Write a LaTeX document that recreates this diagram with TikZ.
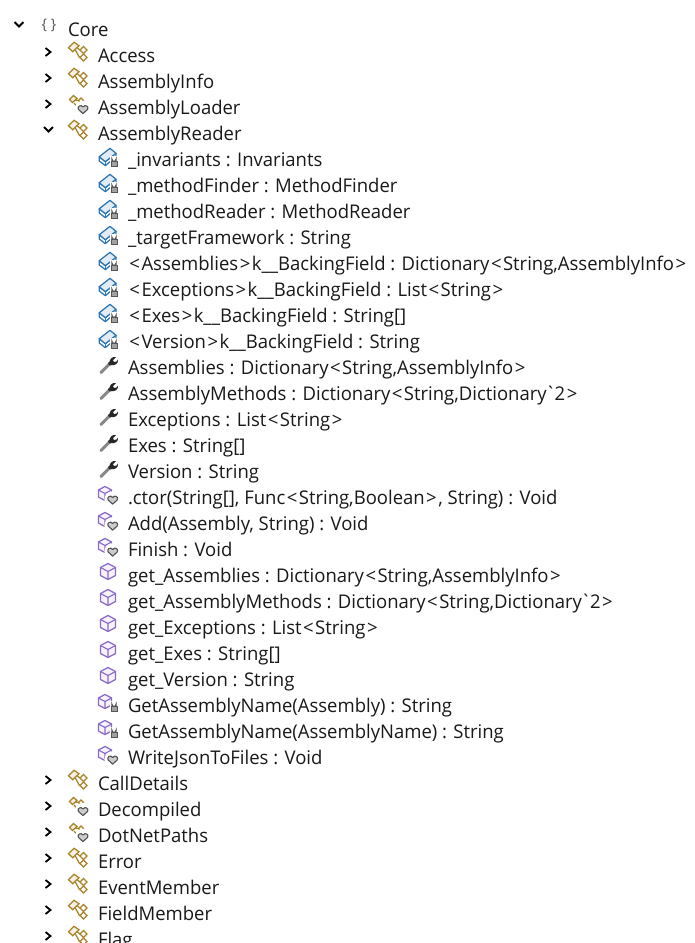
\documentclass[tikz,border=0pt]{standalone}
\usepackage{fontspec}
\newfontfamily\uif[FakeStretch=0.98]{Open Sans}
\definecolor{gold}{HTML}{A98326}
\definecolor{ablue}{HTML}{2F78B8}
\definecolor{apurple}{HTML}{8A6AC8}
\definecolor{agray}{HTML}{555555}
\newcommand{\lAng}{\kern1.1pt<\kern1.1pt}
\newcommand{\rAng}{\kern1.1pt>\kern1.1pt}
\newcommand{\tick}{\kern-1pt`\kern-1pt}
\tikzset{
  x=0.75pt,y=-0.75pt,
  lbl/.style={anchor=base west,inner sep=0pt,outer sep=0pt,font=\uif\fontsize{14.15pt}{16pt}\selectfont,text=black!90},
  chev/.style={draw=black,line width=1.35pt,line cap=butt,line join=miter},
  goldline/.style={draw=gold,line width=0.95pt,fill=gold!12},
  blueline/.style={draw=ablue,line width=0.95pt,fill=ablue!14,line join=round},
  purpleline/.style={draw=apurple,line width=0.95pt,fill=apurple!8,line join=round},
  heartshape/.style={draw=agray,line width=0.85pt,fill=agray!30,line join=round},
}
% expanders
\newcommand{\chevR}[1]{\draw[chev] (45.5,#1-7) -- (50.5,#1-3) -- (45.5,#1+1);}
\newcommand{\chevD}[1]{\draw[chev] (44,#1-6) -- (48.5,#1-1.5) -- (53,#1-6);}
% overlays at local origin
\newcommand{\hearticon}[2]{\begin{scope}[shift={(#1,#2)}]
  \fill[white] (0,0) circle[radius=6.2pt];
  \draw[heartshape] (0,4.6) -- (-4.6,0.4) .. controls (-6.2,-2.6) and (-2,-5) .. (0,-2) .. controls (2,-5) and (6.2,-2.6) .. (4.6,0.4) -- cycle;
\end{scope}}
\newcommand{\lockicon}[2]{\begin{scope}[shift={(#1,#2)}]
  \fill[white] (-4,-6) rectangle (4,5);
  \draw[agray,line width=0.9pt] (-2,-1) -- (-2,-2.6) arc (180:0:2) -- (2,-1);
  \draw[agray,line width=0.7pt,fill=agray!55] (-3,-1) rectangle (3,4);
\end{scope}}
% class icons
\newcommand{\classicon}[1]{\begin{scope}[shift={(0,#1)}]
  \draw[goldline,fill=none] (74.5,-6.5) -- (79.5,2.5) -- (83.5,2.5);
  \draw[goldline,fill=none] (76,-8) -- (80,-5);
  \draw[goldline] (74,-12.7) -- (68.5,-7.3) -- (72.7,-3.3) -- (79,-9.3) -- cycle;
  \draw[goldline,fill=white] (83.5,-8.5) -- (87,-5) -- (83.5,-1.5) -- (80,-5) -- cycle;
  \draw[goldline,fill=white] (83.5,-1) -- (87,2.5) -- (83.5,6) -- (80,2.5) -- cycle;
\end{scope}}
\newcommand{\classheart}[1]{\begin{scope}[shift={(0,#1)}]
  \draw[goldline,fill=none] (74,-4) -- (78,1);
  \draw[goldline,fill=none] (75,-7) -- (79,-6.5);
  \draw[goldline] (73.5,-11.5) -- (69.5,-7.5) -- (72.5,-4.5) -- (77,-8.5) -- cycle;
  \draw[goldline,fill=white] (81,-9) -- (83.5,-6.5) -- (81,-4) -- (78.5,-6.5) -- cycle;
  \hearticon{83}{2}
\end{scope}}
% field icon
\newcommand{\fieldicon}[1]{\begin{scope}[shift={(0,#1)}]
  \draw[blueline,fill=white] (99.3,-2.3) -- (99.3,2) -- (105.3,6.7) -- (116,-2.3) -- (116,-5.7) -- (105.3,2.7) -- cycle;
  \draw[blueline] (99.3,-2.3) -- (110,-10.7) -- (116,-5.7) -- (105.3,2.7) -- cycle;
  \draw[ablue,line width=0.95pt] (105.3,2.7) -- (105.3,6.7);
  \lockicon{114}{3}
\end{scope}}
% property icon
\newcommand{\propicon}[1]{\begin{scope}[shift={(0,#1)}]
  \draw[agray!70,line width=2.2pt,line cap=round] (101,5.5) -- (110,-3.5);
  \draw[black!80,line width=2.6pt,line cap=butt] (109,-2.5) -- (112,-5.5);
  \fill[black!85] (110,-4) .. controls (109,-8) and (112,-10.5) .. (116,-10) -- (113,-7) -- (114,-5) -- (116.5,-5.5) -- (118,-7.5) .. controls (118.5,-3.5) and (115,-1) .. (111,-2) -- cycle;
\end{scope}}
% method icons
\newcommand{\cube}[3]{\begin{scope}[shift={(#1,#2)},scale=#3]
  \draw[purpleline] (0,-8) -- (7.5,-4) -- (7.5,4) -- (0,8) -- (-7.5,4) -- (-7.5,-4) -- cycle;
  \draw[apurple,line width=0.85pt] (-7.5,-4) -- (0,0) -- (7.5,-4) (0,0) -- (0,8);
\end{scope}}
\newcommand{\methicon}[1]{\cube{108}{#1-3.5}{1}}
\newcommand{\methheart}[1]{\cube{105}{#1-3.5}{0.88}\hearticon{112.7}{#1+2.5}}
\newcommand{\methlock}[1]{\cube{105}{#1-3.5}{0.88}\lockicon{114}{#1+2}}
% label
\newcommand{\lab}[4]{\node[lbl] (#1) at (#2,#3+7.2) {#4};}
\begin{document}
\begin{tikzpicture}
\useasboundingbox (0,0) rectangle (694,943);
\clip (0,0) rectangle (694,943);
\fill[white] (0,0) rectangle (694,943);
% Root
\draw[chev] (14.5,22) -- (19,26.5) -- (23.5,22);
\node[inner sep=0pt,font=\uif\fontsize{11pt}{13pt}\selectfont,text=agray] (braces) at (49,25) {\{\ \}};
\lab{core}{68}{29}{Core}
% classes above
\chevR{55}\classicon{55}\lab{access}{98}{55}{Access}
\chevR{81}\classicon{81}\lab{info}{98}{81}{AssemblyInfo}
\chevR{107}\classheart{107}\lab{loader}{98}{107}{AssemblyLoader}
\chevD{133}\classicon{133}\lab{reader}{98}{133}{AssemblyReader}
% fields
\fieldicon{159}\lab{f1}{128}{159}{\_invariants : Invariants}
\fieldicon{185}\lab{f2}{128}{185}{\_methodFinder : MethodFinder}
\fieldicon{211}\lab{f3}{128}{211}{\_methodReader : MethodReader}
\fieldicon{237}\lab{f4}{128}{237}{\_targetFramework : String}
\fieldicon{263}\lab{f5}{128}{263}{\lAng{}Assemblies\rAng{}k\_\_BackingField : Dictionary\lAng{}String,AssemblyInfo\rAng}
\fieldicon{289}\lab{f6}{128}{289}{\lAng{}Exceptions\rAng{}k\_\_BackingField : List\lAng{}String\rAng}
\fieldicon{315}\lab{f7}{128}{315}{\lAng{}Exes\rAng{}k\_\_BackingField : String[]}
\fieldicon{341}\lab{f8}{128}{341}{\lAng{}Version\rAng{}k\_\_BackingField : String}
% properties
\propicon{367}\lab{p1}{128}{367}{Assemblies : Dictionary\lAng{}String,AssemblyInfo\rAng}
\propicon{393}\lab{p2}{128}{393}{AssemblyMethods : Dictionary\lAng{}String,Dictionary\tick{}2\rAng}
\propicon{419}\lab{p3}{128}{419}{Exceptions : List\lAng{}String\rAng}
\propicon{445}\lab{p4}{128}{445}{Exes : String[]}
\propicon{471}\lab{p5}{128}{471}{Version : String}
% methods
\methheart{497}\lab{m1}{128}{497}{.ctor(String[], Func\lAng{}String,Boolean\rAng{}, String) : Void}
\methheart{523}\lab{m2}{128}{523}{Add(Assembly, String) : Void}
\methheart{549}\lab{m3}{128}{549}{Finish : Void}
\methicon{575}\lab{m4}{128}{575}{get\_Assemblies : Dictionary\lAng{}String,AssemblyInfo\rAng}
\methicon{601}\lab{m5}{128}{601}{get\_AssemblyMethods : Dictionary\lAng{}String,Dictionary\tick{}2\rAng}
\methicon{627}\lab{m6}{128}{627}{get\_Exceptions : List\lAng{}String\rAng}
\methicon{653}\lab{m7}{128}{653}{get\_Exes : String[]}
\methicon{679}\lab{m8}{128}{679}{get\_Version : String}
\methlock{705}\lab{m9}{128}{705}{GetAssemblyName(Assembly) : String}
\methlock{731}\lab{m10}{128}{731}{GetAssemblyName(AssemblyName) : String}
\methheart{757}\lab{m11}{128}{757}{WriteJsonToFiles : Void}
% classes below
\chevR{783}\classicon{783}\lab{call}{98}{783}{CallDetails}
\chevR{809}\classheart{809}\lab{decomp}{98}{809}{Decompiled}
\chevR{835}\classheart{835}\lab{paths}{98}{835}{DotNetPaths}
\chevR{861}\classicon{861}\lab{error}{98}{861}{Error}
\chevR{887}\classicon{887}\lab{event}{98}{887}{EventMember}
\chevR{913}\classicon{913}\lab{fieldm}{98}{913}{FieldMember}
\chevR{939}\classicon{939}\lab{flag}{98}{939}{Flag}
\end{tikzpicture}
\end{document}
